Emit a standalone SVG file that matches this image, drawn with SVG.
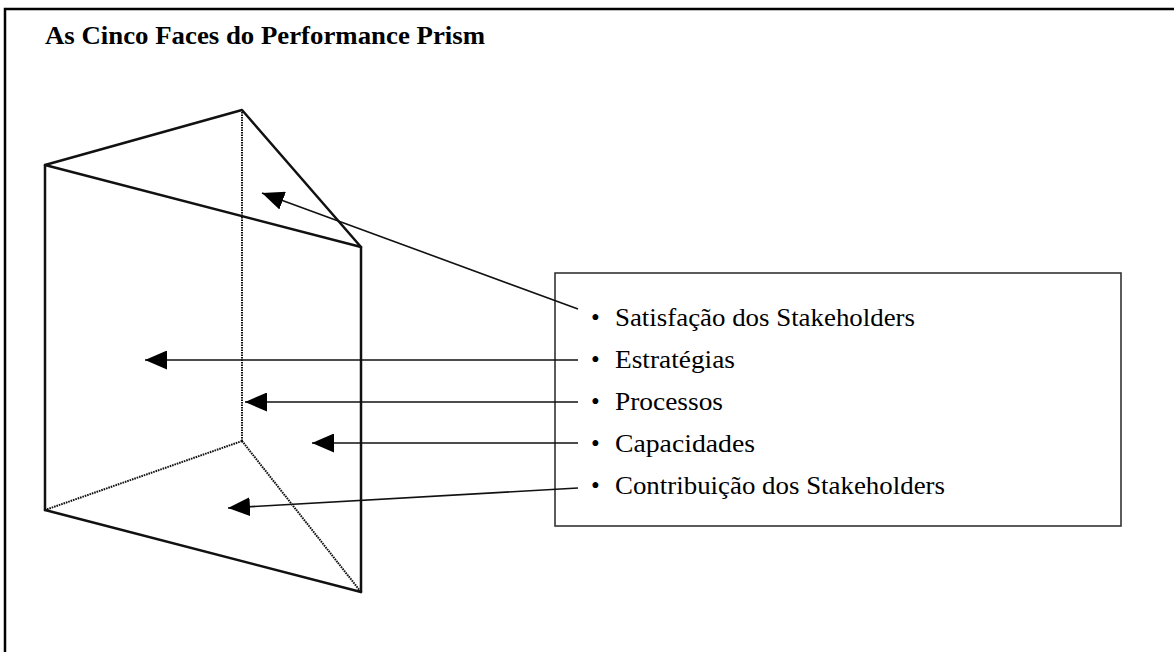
<svg xmlns="http://www.w3.org/2000/svg" width="1174" height="652" viewBox="0 0 1174 652">
  <style>
    .frame { fill: none; stroke: #000; stroke-width: 2.5; }
    .edge { fill: none; stroke: #111; stroke-width: 2.5; stroke-linecap: round; stroke-linejoin: round; }
    .hidden { fill: none; stroke: #111; stroke-width: 2; stroke-dasharray: 1.6 0.9; }
    .box { fill: #fff; stroke: #333; stroke-width: 1.6; }
    .ptr { fill: none; stroke: #111; stroke-width: 1.6; marker-end: url(#head); }
    .title { font-family: "Liberation Serif", "Times New Roman", serif; font-weight: bold; font-size: 25px; fill: #000; }
    .item { font-family: "Liberation Serif", "Times New Roman", serif; font-size: 25px; fill: #000; }
  </style>
  <defs>
    <marker id="head" viewBox="0 0 22 19" refX="22" refY="9.5" markerWidth="22" markerHeight="19" markerUnits="userSpaceOnUse" orient="auto">
      <path d="M0,0 L22,9.5 L0,19 Z" fill="#000"/>
    </marker>
  </defs>

  <rect x="0" y="0" width="1174" height="652" fill="#fff"/>
  <!-- page frame: only top and left sides fall inside the canvas -->
  <rect class="frame" x="5" y="9" width="1200" height="700"/>

  <g id="title">
    <text class="title" x="45" y="44" textLength="440" lengthAdjust="spacingAndGlyphs">As Cinco Faces do Performance Prism</text>
  </g>

  <!-- the prism -->
  <g id="prism">
    <line class="hidden" x1="242" y1="112" x2="242" y2="441"/>
    <line class="hidden" x1="242" y1="441" x2="45" y2="510"/>
    <line class="hidden" x1="242" y1="441" x2="361" y2="592"/>
    <polygon class="edge" points="45,165 242,110 361,247"/>
    <line class="edge" x1="45" y1="165" x2="45" y2="510"/>
    <line class="edge" x1="361" y1="247" x2="361" y2="592"/>
    <line class="edge" x1="45" y1="510" x2="361" y2="592"/>
  </g>

  <!-- list of faces -->
  <g id="faces">
    <rect class="box" x="555" y="273" width="566" height="253"/>
    <g class="item">
      <text x="591" y="326">•</text>
      <text x="615" y="326" textLength="300" lengthAdjust="spacingAndGlyphs">Satisfação dos Stakeholders</text>
      <text x="591" y="368">•</text>
      <text x="615" y="368" textLength="120" lengthAdjust="spacingAndGlyphs">Estratégias</text>
      <text x="591" y="410">•</text>
      <text x="615" y="410" textLength="108" lengthAdjust="spacingAndGlyphs">Processos</text>
      <text x="591" y="452">•</text>
      <text x="615" y="452" textLength="140" lengthAdjust="spacingAndGlyphs">Capacidades</text>
      <text x="591" y="494">•</text>
      <text x="615" y="494" textLength="330" lengthAdjust="spacingAndGlyphs">Contribuição dos Stakeholders</text>
    </g>
  </g>

  <g id="connectors">
    <line class="ptr" x1="578" y1="309" x2="262" y2="193"/>
    <line class="ptr" x1="578" y1="360" x2="145" y2="360"/>
    <line class="ptr" x1="578" y1="402" x2="245" y2="402"/>
    <line class="ptr" x1="578" y1="443" x2="312" y2="443"/>
    <line class="ptr" x1="578" y1="488" x2="228" y2="508"/>
  </g>
</svg>
